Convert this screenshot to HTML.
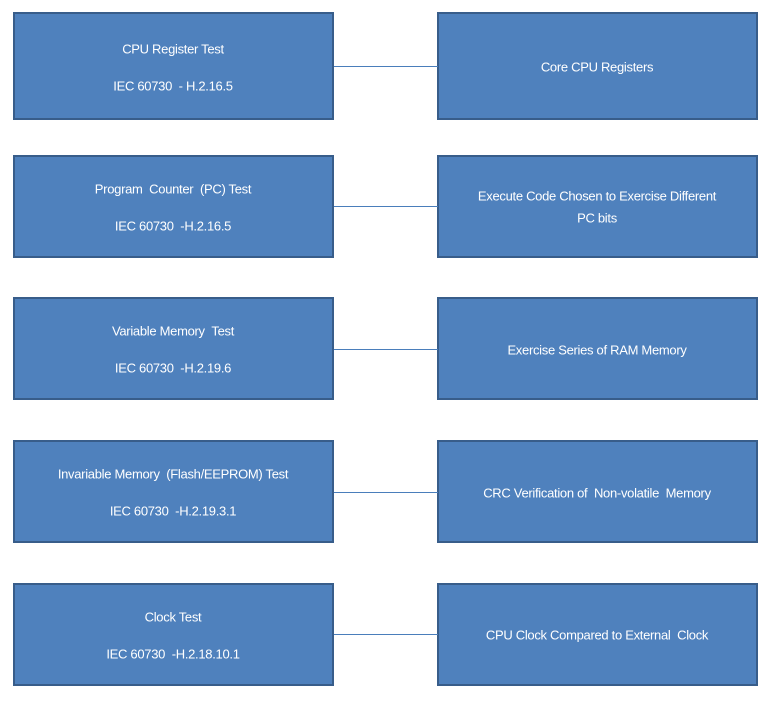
<!DOCTYPE html>
<html><head><style>
body{margin:0;width:773px;height:702px;background:#fff;position:relative;overflow:hidden;font-family:"Liberation Sans",sans-serif}
.b{position:absolute;background:#4f81bd;border:2.5px solid #385d8a;box-sizing:border-box}
.l{position:absolute;height:1px;background:#4a7ebb;left:334px;width:104px}
.t{position:absolute;color:#fff;font-size:13px;letter-spacing:-0.3px;white-space:nowrap;transform:translate(-50%,-50%);line-height:1}
</style></head><body>
<div class="b" style="left:13px;top:12px;width:321px;height:108px"></div>
<div class="b" style="left:437px;top:12px;width:321px;height:108px"></div>
<div class="b" style="left:13px;top:155px;width:321px;height:103px"></div>
<div class="b" style="left:437px;top:155px;width:321px;height:103px"></div>
<div class="b" style="left:13px;top:297px;width:321px;height:103px"></div>
<div class="b" style="left:437px;top:297px;width:321px;height:103px"></div>
<div class="b" style="left:13px;top:440px;width:321px;height:103px"></div>
<div class="b" style="left:437px;top:440px;width:321px;height:103px"></div>
<div class="b" style="left:13px;top:583px;width:321px;height:103px"></div>
<div class="b" style="left:437px;top:583px;width:321px;height:103px"></div>
<div class="l" style="top:66px"></div>
<div class="l" style="top:206px"></div>
<div class="l" style="top:349px"></div>
<div class="l" style="top:492px"></div>
<div class="l" style="top:634px"></div>
<div class="t" style="left:173px;top:49px">CPU Register Test</div>
<div class="t" style="left:173px;top:86px">IEC 60730 &nbsp;- H.2.16.5</div>
<div class="t" style="left:597px;top:67px">Core CPU Registers</div>
<div class="t" style="left:173px;top:189px">Program &nbsp;Counter &nbsp;(PC) Test</div>
<div class="t" style="left:173px;top:226px">IEC 60730 &nbsp;-H.2.16.5</div>
<div class="t" style="left:597px;top:196px">Execute Code Chosen to Exercise Different</div>
<div class="t" style="left:597px;top:218px">PC bits</div>
<div class="t" style="left:173px;top:331px">Variable Memory &nbsp;Test</div>
<div class="t" style="left:173px;top:368px">IEC 60730 &nbsp;-H.2.19.6</div>
<div class="t" style="left:597px;top:350px">Exercise Series of RAM Memory</div>
<div class="t" style="left:173px;top:474px">Invariable Memory &nbsp;(Flash/EEPROM) Test</div>
<div class="t" style="left:173px;top:511px">IEC 60730 &nbsp;-H.2.19.3.1</div>
<div class="t" style="left:597px;top:493px">CRC Verification of &nbsp;Non-volatile &nbsp;Memory</div>
<div class="t" style="left:173px;top:617px">Clock Test</div>
<div class="t" style="left:173px;top:654px">IEC 60730 &nbsp;-H.2.18.10.1</div>
<div class="t" style="left:597px;top:635px">CPU Clock Compared to External &nbsp;Clock</div>
</body></html>
